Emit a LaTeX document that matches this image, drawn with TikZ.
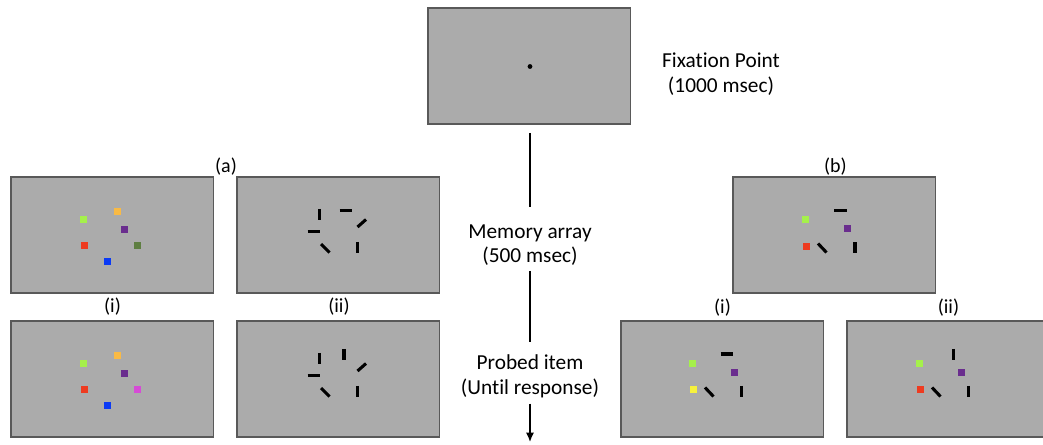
\documentclass[tikz,border=0pt]{standalone}
\usepackage{fontspec}
\setmainfont{Carlito}[Ligatures=NoCommon]
\usetikzlibrary{arrows.meta}

\definecolor{screengray}{HTML}{ABABAB}
\definecolor{screenedge}{HTML}{595959}
\definecolor{sqlime}{HTML}{A5F04B}
\definecolor{sqorange}{HTML}{F9BA45}
\definecolor{sqpurple}{HTML}{6A2D8E}
\definecolor{sqred}{HTML}{EE3B20}
\definecolor{sqgreen}{HTML}{5E7E41}
\definecolor{sqblue}{HTML}{0B3AF5}
\definecolor{sqmagenta}{HTML}{D64BD6}
\definecolor{sqyellow}{HTML}{F7F23C}

\tikzset{
  screen/.style={draw=screenedge, fill=screengray, line width=1.1pt,
    minimum width=152pt, minimum height=87pt, inner sep=0pt, outer sep=0pt,
    anchor=north west},
  bar/.style={line width=2.3pt},
  lbl/.style={align=center, inner sep=0pt, font=\fontsize{16}{18.5}\selectfont},
  tag/.style={inner sep=0pt, font=\fontsize{15}{18}\selectfont},
  tline/.style={line width=1.1pt},
}

\begin{document}
\begin{tikzpicture}[x=0.75pt,y=-0.75pt]
\useasboundingbox (0,0) rectangle (1043,445);
\clip (0,0) rectangle (1043,445);

% fixation screen
\begin{scope}[shift={(428,8)}]
  \node[screen] (fix) at (0,0) {};
  \fill (102,58.5) circle (1.8pt);
\end{scope}

% (a) memory arrays
\begin{scope}[shift={(11,177)}]
  \node[screen] (arrA) at (0,0) {};
  \fill[sqlime] (68.5,39.5) rectangle ++(7,7);
  \fill[sqorange] (102.5,31.5) rectangle ++(7,7);
  \fill[sqpurple] (110,49) rectangle ++(7,7);
  \fill[sqred] (69.5,65.5) rectangle ++(7,7);
  \fill[sqgreen] (123,65.5) rectangle ++(7,7);
  \fill[sqblue] (92.5,81.5) rectangle ++(7,7);
\end{scope}
\begin{scope}[shift={(237,177)}]
  \node[screen] (barsA) at (0,0) {};
  \draw[bar] (82.5,32) -- (82.5,43);
  \draw[bar] (102.5,33.5) -- (115,33.5);
  \draw[bar] (120.5,50) -- (129,42.5);
  \draw[bar] (70.5,54.5) -- (83,54.5);
  \draw[bar] (84,67) -- (92.5,75.5);
  \draw[bar] (120.5,65) -- (120.5,76.5);
\end{scope}

% (a) probes
\begin{scope}[shift={(11,321)}]
  \node[screen] (probeAi) at (0,0) {};
  \fill[sqlime] (68.5,39.5) rectangle ++(7,7);
  \fill[sqorange] (102.5,31.5) rectangle ++(7,7);
  \fill[sqpurple] (110,49) rectangle ++(7,7);
  \fill[sqred] (69.5,65.5) rectangle ++(7,7);
  \fill[sqmagenta] (123,65.5) rectangle ++(7,7);
  \fill[sqblue] (92.5,81.5) rectangle ++(7,7);
\end{scope}
\begin{scope}[shift={(237,321)}]
  \node[screen] (probeAii) at (0,0) {};
  \draw[bar] (82.5,32) -- (82.5,43);
  \draw[bar] (107,28) -- (107,39.5);
  \draw[bar] (120.5,50) -- (129,42.5);
  \draw[bar] (70.5,54.5) -- (83,54.5);
  \draw[bar] (84,67) -- (92.5,75.5);
  \draw[bar] (120.5,65) -- (120.5,76.5);
\end{scope}

% (b) mixed array and probes
\begin{scope}[shift={(733,177)}]
  \node[screen] (arrB) at (0,0) {};
  \draw[bar] (101,33.5) -- (113.5,33.5);
  \fill[sqlime] (69,39.5) rectangle ++(7,7);
  \fill[sqpurple] (110.5,48.5) rectangle ++(7,7);
  \fill[sqred] (70,66) rectangle ++(7,7);
  \draw[bar] (85,66.5) -- (93.5,75.5);
  \draw[bar] (122,65.5) -- (122,76.5);
\end{scope}
\begin{scope}[shift={(621,321)}]
  \node[screen] (probeBi) at (0,0) {};
  \draw[bar] (99.5,33) -- (112,33);
  \fill[sqlime] (68,39.5) rectangle ++(7,7);
  \fill[sqpurple] (109.5,48.5) rectangle ++(7,7);
  \fill[sqyellow] (69,65.5) rectangle ++(7,7);
  \draw[bar] (84,66.5) -- (92.5,75.5);
  \draw[bar] (120.5,65) -- (120.5,76.5);
\end{scope}
\begin{scope}[shift={(847,321)}]
  \node[screen] (probeBii) at (0,0) {};
  \draw[bar] (106.5,28) -- (106.5,39.5);
  \fill[sqlime] (69,39.5) rectangle ++(7,7);
  \fill[sqpurple] (110.5,48.5) rectangle ++(7,7);
  \fill[sqred] (70,65.5) rectangle ++(7,7);
  \draw[bar] (85,66.5) -- (93.5,75.5);
  \draw[bar] (121.5,65) -- (121.5,76.5);
\end{scope}

% panel labels
\node[tag] (tagA) at (226,167) {(a)};
\node[tag] (tagAi) at (112.5,306.5) {(i)};
\node[tag] (tagAii) at (339,306.5) {(ii)};
\node[tag] (tagB) at (835.5,167) {(b)};
\node[tag] (tagBi) at (722.5,308) {(i)};
\node[tag] (tagBii) at (948.5,308) {(ii)};

% time line
\node[lbl] (fixtxt) at (721,74) {Fixation Point\\(1000 msec)};
\node[lbl] (mem) at (530,245) {Memory array\\(500 msec)};
\node[lbl] (probe) at (530,376) {Probed item\\(Until response)};
\coordinate (tend) at (530,442);

\draw[tline, shorten <=6.75pt, shorten >=12.75pt] (mem.north |- fix.south) -- (mem.north);
\draw[tline, shorten <=3.75pt, shorten >=9pt] (mem.south) -- (probe.north);
\draw[tline, shorten <=4.5pt, -{Latex[length=7pt,width=6pt]}] (probe.south) -- (tend);
\end{tikzpicture}
\end{document}
